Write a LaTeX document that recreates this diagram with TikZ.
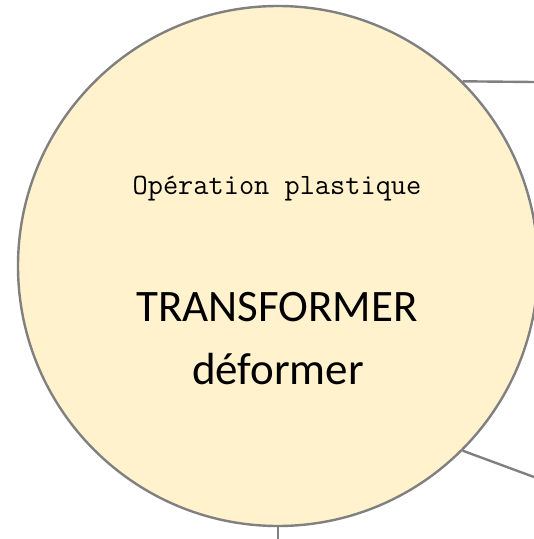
\documentclass[tikz,border=0pt]{standalone}
\usepackage{fontspec}
\newfontfamily\calibri{Carlito}
\usepackage{xcolor}
\definecolor{opfill}{HTML}{FFF2CC}
\definecolor{opline}{HTML}{808080}
\begin{document}
\begin{tikzpicture}[x = 1pt, y = -1pt, line width = 2.4pt]
        \useasboundingbox (0, 0) rectangle (534, 539);
        \clip (0, 0) rectangle (534, 539);
        \node (op) at (278, 266) [circle, draw = opline, fill = opfill, minimum size = 520pt, inner sep = 0pt] {};
        \node (titre) at (277, 189) [font = \fontsize{29.5}{34}\ttfamily] {Opération plastique};
        \node (verbe) at (277, 307) [font = \fontsize{45}{52}\calibri] {TRANSFORMER};
        \node (sens) at (278, 369) [font = \fontsize{45}{52}\calibri] {déformer};
        \coordinate (haut) at (534, 82);
        \coordinate (bas) at (534, 477);
        \coordinate (pied) at (278, 539);
        \draw [opline] (op.45) -- (haut);
        \draw [opline] (op.-45) -- (bas);
        \draw [opline] (op.south) -- (pied);
    \end{tikzpicture}
\end{document}
